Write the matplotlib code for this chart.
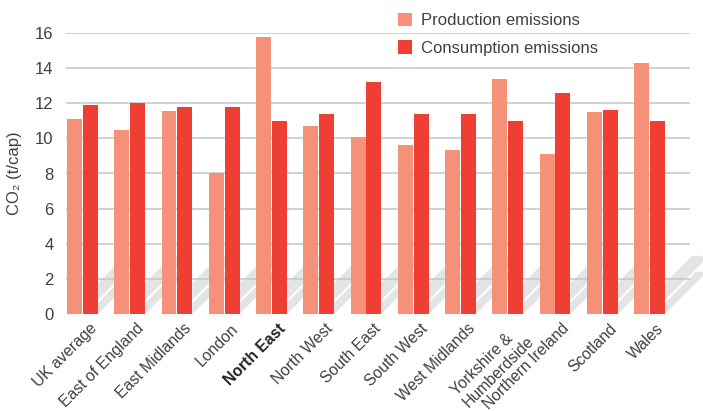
import matplotlib
matplotlib.use('Agg')
import matplotlib.pyplot as plt
from matplotlib.patches import Polygon
import numpy as np

plt.rcParams['font.family'] = ['Liberation Sans', 'DejaVu Sans']

regions = ["UK average", "East of England", "East Midlands", "London", "North East",
           "North West", "South East", "South West", "West Midlands",
           "Yorkshire &\nHumberdside", "Northern Ireland", "Scotland", "Wales"]
production = [11.1, 10.45, 11.55, 8.05, 15.8, 10.7, 10.05, 9.6, 9.35, 13.4, 9.1, 11.5, 14.3]
consumption = [11.9, 12.0, 11.8, 11.8, 11.0, 11.4, 13.2, 11.4, 11.4, 11.0, 12.6, 11.6, 11.0]
yticks = [0, 2, 4, 6, 8, 10, 12, 14, 16]

prod_color = '#f49178'
cons_color = '#ef3e33'
text_color = '#404040'

W, H = 703, 411
fig = plt.figure(figsize=(W / 100, H / 100), dpi=100)
ax = fig.add_axes([66 / W, (H - 314) / H, (690 - 66) / W, (314 - 33) / H])

x = np.arange(len(regions))
bw = 0.317
off = 0.169
ax.set_xlim(-0.349, 12.857)
ax.set_ylim(0, 16)

# pixel -> data scale for the floor shadows
px_x = 1 / 47.25
px_y = 1 / 17.5
shade = '#e3e4e6'
for i in x:
    xr = i + off + bw / 2
    h1, h2 = 42, 58
    lower = [(0, 0), (0, 11), (h1 - 11, h1), (h1, h1)]
    upper = [(0, 14), (0, 31), (h2 - 31, h2), (h2 - 14, h2)]
    for shape in (lower, upper):
        pts = [(xr + a * px_x, b * px_y) for a, b in shape]
        ax.add_patch(Polygon(pts, closed=True, facecolor=shade, edgecolor='none',
                             zorder=1, clip_on=False))

ax.hlines(yticks[1:], -0.349, 12.857, colors='#c9c9c9', linewidth=1.2, zorder=2)

ax.bar(x - off, production, bw, color=prod_color, zorder=3, label='Production emissions')
ax.bar(x + off, consumption, bw, color=cons_color, zorder=3, label='Consumption emissions')

for s in ax.spines.values():
    s.set_visible(False)
ax.tick_params(length=0, colors=text_color)
ax.tick_params(axis='y', pad=9, labelsize=12)
ax.set_yticks(yticks)
ax.set_xticks(x + 0.14)
labels = ax.set_xticklabels(regions, rotation=45, ha='right', rotation_mode='anchor',
                            multialignment='left')
ax.tick_params(axis='x', pad=5, labelsize=11.3)
labels[4].set_fontweight('bold')
labels[4].set_color('#222222')

ax.set_ylabel('CO₂ (t/cap)', fontsize=12, color=text_color, labelpad=9)

fig.legend(loc='upper left', bbox_to_anchor=(383 / W, 1 + 2 / H), frameon=False,
           fontsize=12, handlelength=0.85, handleheight=0.85, handletextpad=0.55,
           labelspacing=0.72, labelcolor=text_color)

plt.savefig('out.png', dpi=100)
